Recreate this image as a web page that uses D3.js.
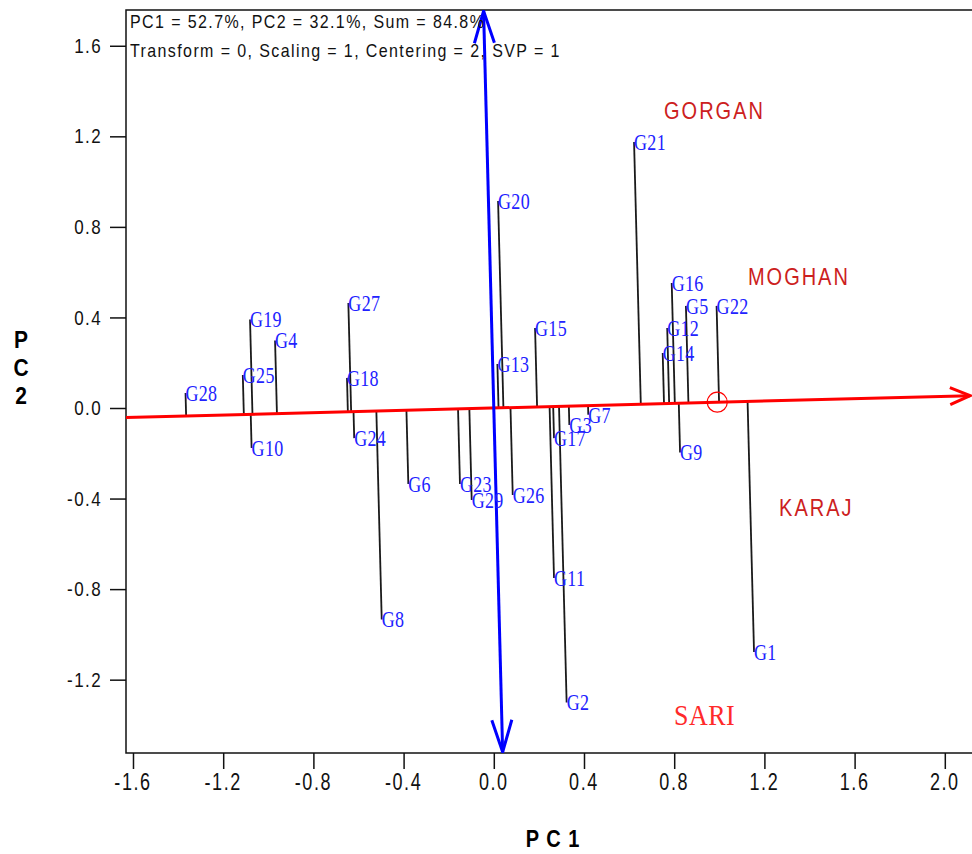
<!DOCTYPE html>
<html>
<head>
<meta charset="utf-8">
<script src="https://cdn.jsdelivr.net/npm/d3@7"></script>
<style>
  html, body { margin: 0; padding: 0; background: #fff; }
  svg { display: block; }
</style>
</head>
<body>
<svg id="chart" width="972" height="854"></svg>
<script>
// ---------------- data ----------------
const genotypes = ["G1","G2","G3","G4","G5","G6","G7","G8","G9","G10",
                   "G11","G12","G13","G14","G15","G16","G17","G18","G19","G20",
                   "G21","G22","G23","G24","G25","G26","G27","G28","G29"];
const genoPC1 = [1.154, 0.323, 0.335, -0.970, 0.852, -0.379, 0.419, -0.497, 0.826, -1.074,
                 0.267, 0.769, 0.016, 0.749, 0.183, 0.789, 0.267, -0.651, -1.081, 0.019,
                 0.622, 0.988, -0.150, -0.619, -1.113, 0.084, -0.645, -1.367, -0.098];
const genoPC2 = [-1.078, -1.301, -0.075, 0.298, 0.451, -0.336, -0.030, -0.934, -0.197, -0.177,
                 -0.751, 0.353, 0.194, 0.243, 0.353, 0.552, -0.133, 0.133, 0.391, 0.914,
                 1.175, 0.451, -0.336, -0.133, 0.146, -0.384, 0.464, 0.066, -0.406];

const environments = ["GORGAN", "MOGHAN", "KARAJ", "SARI"];
const envPC1 = [0.755, 1.127, 1.265, 0.799];
const envPC2 = [1.312, 0.579, -0.442, -1.356];

const averageEnv = [0.991, 0.0256];   // average environment (circle)

const xTicks = [-1.6, -1.2, -0.8, -0.4, 0.0, 0.4, 0.8, 1.2, 1.6, 2.0];
const yTicks = [-1.2, -0.8, -0.4, 0.0, 0.4, 0.8, 1.2, 1.6];
const xTitle = "P C 1";
const yTitle = ["P", "C", "2"];
const annotation = ["PC1 = 52.7%, PC2 = 32.1%, Sum = 84.8%",
                    "Transform = 0, Scaling = 1, Centering = 2, SVP = 1"];

// ---------------- layout ----------------
const L = 126, T = 10, R = 972, B = 753;
const svg = d3.select("#chart");

const x = d3.scaleLinear().domain([-1.631, 2.1206]).range([L, R]);
const y = d3.scaleLinear().domain([-1.5239, 1.758]).range([B, T]);
const fmt = v => d3.format(".1f")(v).replace("\u2212", "-");

function stretched(g, px, py, txt, o) {
  return g.append("text")
    .attr("transform", `translate(${px},${py}) scale(${o.sx || 1},${o.sy || 1})`)
    .attr("x", 0).attr("y", 0)
    .attr("dominant-baseline", "central")
    .attr("text-anchor", o.anchor || "start")
    .attr("font-family", o.family || "'Liberation Sans', Arial, sans-serif")
    .attr("font-size", o.size)
    .attr("font-weight", o.weight || "normal")
    .attr("letter-spacing", o.ls || 0)
    .attr("fill", o.fill || "#000")
    .text(txt);
}

// clip for the plot area
svg.append("defs").append("clipPath").attr("id", "plotclip")
  .append("rect").attr("x", L).attr("y", T).attr("width", R - L + 5).attr("height", B - T);

// axes (ticks only; labels drawn separately)
const xAxis = d3.axisBottom(x).tickValues(xTicks).tickSize(16).tickSizeOuter(0).tickFormat("");
const yAxis = d3.axisLeft(y).tickValues(yTicks).tickSize(16).tickSizeOuter(0).tickFormat("");
const gx = svg.append("g").attr("transform", `translate(0,${B})`).call(xAxis);
const gy = svg.append("g").attr("transform", `translate(${L},0)`).call(yAxis);
[gx, gy].forEach(g => {
  g.select(".domain").remove();
  g.selectAll(".tick line").attr("stroke", "#111").attr("stroke-width", 1.5);
});

// tick labels
xTicks.forEach(v => {
  stretched(svg, x(v), 782, fmt(v), {size: 18, ls: 1.6, sy: 1.3, anchor: "middle", fill: "#111"});
});
yTicks.forEach(v => {
  stretched(svg, 102, y(v), fmt(v), {size: 17, ls: 1.4, sy: 1.2, anchor: "end", fill: "#111"});
});

// axis titles
stretched(svg, 553, 839, xTitle, {size: 20, weight: "bold", anchor: "middle", sy: 1.15, ls: 1});
yTitle.forEach((c, i) => {
  stretched(svg, 21, 340 + i * 28, c, {size: 21, weight: "bold", anchor: "middle", sy: 1.15});
});

// frame
svg.append("rect").attr("x", L).attr("y", T).attr("width", R - L + 10).attr("height", B - T)
  .attr("fill", "none").attr("stroke", "#111").attr("stroke-width", 1.5);

const plot = svg.append("g").attr("clip-path", "url(#plotclip)");

// AEA direction
const aLen = Math.hypot(averageEnv[0], averageEnv[1]);
const ux = averageEnv[0] / aLen, uy = averageEnv[1] / aLen;

// projection lines
const gdata = genotypes.map((g, i) => ({name: g, pc1: genoPC1[i], pc2: genoPC2[i]}));
plot.selectAll("line.proj").data(gdata).enter().append("line")
  .attr("class", "proj")
  .attr("x1", d => x(d.pc1)).attr("y1", d => y(d.pc2))
  .attr("x2", d => { const t = d.pc1 * ux + d.pc2 * uy; return x(t * ux); })
  .attr("y2", d => { const t = d.pc1 * ux + d.pc2 * uy; return y(t * uy); })
  .attr("stroke", "#1a1a1a").attr("stroke-width", 1.8);

// red average-environment axis
const tStart = x.invert(L) / ux, tEnd = 2.112 / ux;
const ax1 = x(tStart * ux), ay1 = y(tStart * uy), ax2 = x(tEnd * ux), ay2 = y(tEnd * uy);
plot.append("line").attr("x1", ax1).attr("y1", ay1).attr("x2", ax2).attr("y2", ay2)
  .attr("stroke", "#ff0000").attr("stroke-width", 3);

function chevron(tipX, tipY, dirX, dirY, len, half, color, width) {
  const n = Math.hypot(dirX, dirY); dirX /= n; dirY /= n;
  const bx = tipX - dirX * len, by = tipY - dirY * len;
  const px = -dirY, py = dirX;
  plot.append("path")
    .attr("d", `M${bx + px * half},${by + py * half}L${tipX},${tipY}L${bx - px * half},${by - py * half}`)
    .attr("fill", "none").attr("stroke", color).attr("stroke-width", width)
    .attr("stroke-linejoin", "miter");
}
chevron(ax2, ay2, ax2 - ax1, ay2 - ay1, 20, 8.5, "#ff0000", 3);

// blue perpendicular axis through origin
const vx = -uy, vy = ux;        // perpendicular direction in data space
const sTop = y.invert(T + 1) / vy, sBot = y.invert(B - 1) / vy;
const bx1 = x(sTop * vx), by1 = y(sTop * vy), bx2 = x(sBot * vx), by2 = y(sBot * vy);
plot.append("line").attr("x1", bx1).attr("y1", by1).attr("x2", bx2).attr("y2", by2)
  .attr("stroke", "#0000ff").attr("stroke-width", 3);
chevron(bx1, by1, bx1 - bx2, by1 - by2, 32, 10, "#0000ff", 3);
chevron(bx2, by2, bx2 - bx1, by2 - by1, 32, 10, "#0000ff", 3);

// average environment circle
plot.append("circle").attr("cx", x(averageEnv[0])).attr("cy", y(averageEnv[1])).attr("r", 10)
  .attr("fill", "none").attr("stroke", "#ff0000").attr("stroke-width", 1.2);

// genotype labels
gdata.forEach(d => {
  stretched(plot, x(d.pc1), y(d.pc2), d.name,
    {size: 18, family: "'Liberation Serif', 'Times New Roman', serif", fill: "#2222ff", sy: 1.25, ls: 0.3});
});

// environment labels
environments.forEach((e, i) => {
  if (e === "SARI") {
    stretched(plot, x(envPC1[i]), y(envPC2[i]), e,
      {size: 26, family: "'Liberation Serif', 'Times New Roman', serif", fill: "#ff2a2a", sy: 1.12, ls: 0.5});
  } else {
    stretched(plot, x(envPC1[i]), y(envPC2[i]), e,
      {size: 20, fill: "#cc2020", sy: 1.23, ls: 2});
  }
});

// annotation text
annotation.forEach((t, i) => {
  stretched(svg, 130, 21 + i * 29, t, {size: 16, ls: 1.4, sy: 1.2, fill: "#111"});
});
</script>
</body>
</html>
